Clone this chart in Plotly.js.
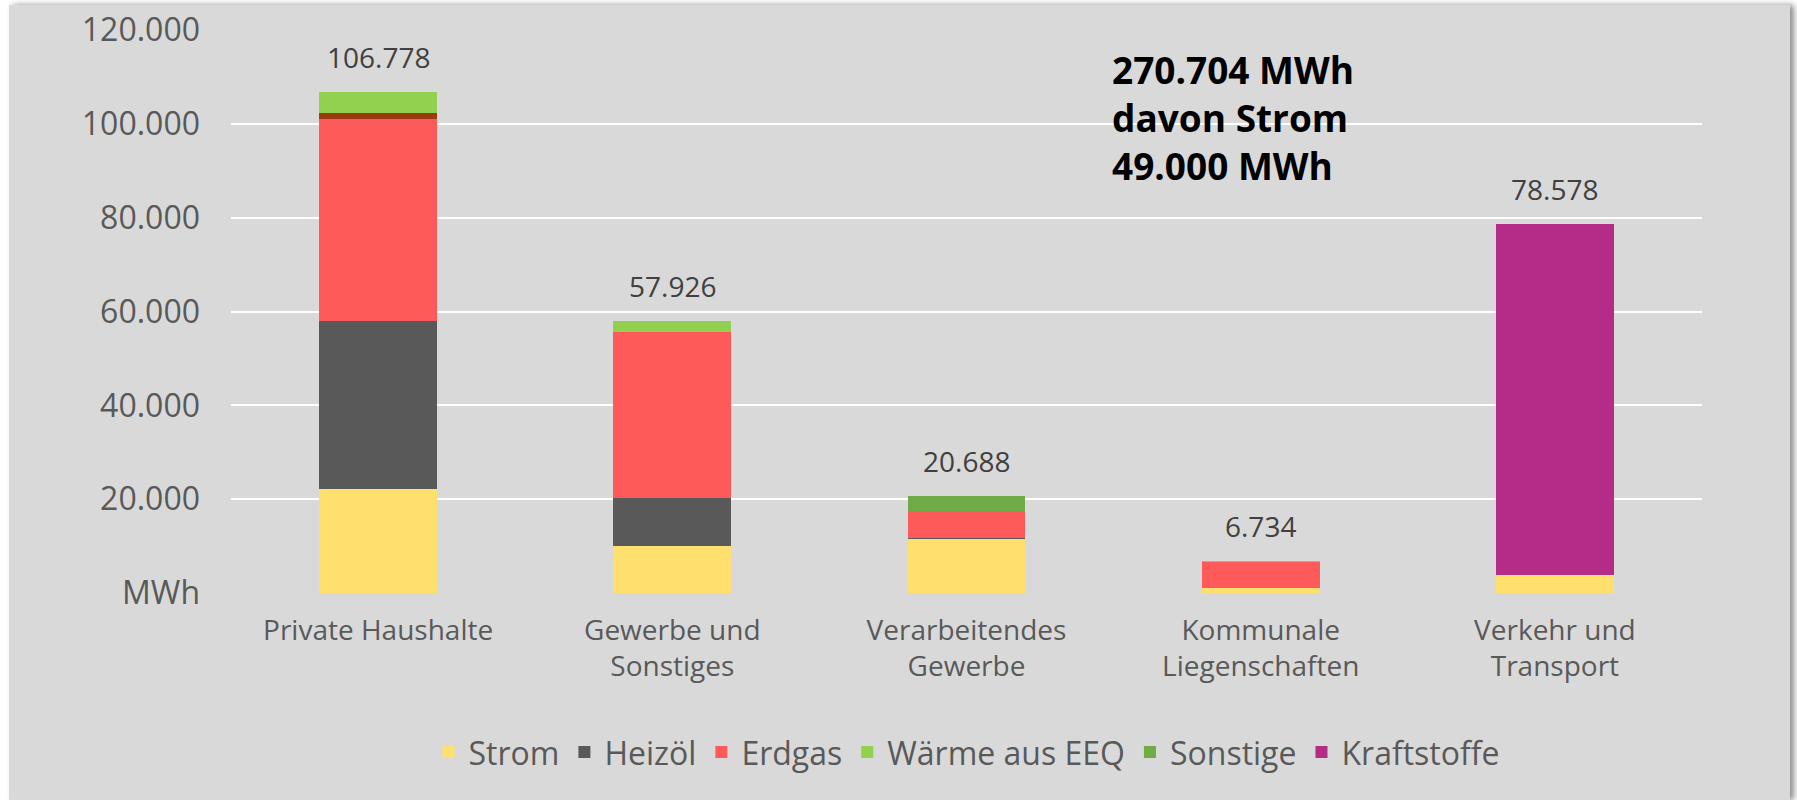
<!DOCTYPE html>
<html>
<head>
<meta charset="utf-8">
<script src="https://cdn.plot.ly/plotly-3.0.1.min.js"></script>
<style>
  body { margin: 0; background: #ffffff; }
  #plot { position: absolute; left: 9px; top: 5px; width: 1781px; height: 795px;
          box-shadow: 4px 0 6px rgba(0,0,0,0.45); }
</style>
</head>
<body>
<div id="plot"></div>
<script>
// Energieverbrauch nach Sektoren (MWh)
const categories = ['Private Haushalte', 'Gewerbe und<br>Sonstiges', 'Verarbeitendes<br>Gewerbe', 'Kommunale<br>Liegenschaften', 'Verkehr und<br>Transport'];

const strom       = [22170, 10020, 11440, 1130, 3770];
const heizoel     = [35870, 10290, 200, 0, 0];
const erdgas      = [42920, 35380, 5900, 5550, 0];
const weitere     = [1410, 0, 0, 0, 0];   // braunes Segment, ohne Legende
const waerme      = [4408, 2236, 0, 54, 0];
const sonstige    = [0, 0, 3148, 0, 0];
const kraftstoffe = [0, 0, 0, 0, 74808];

const yTickVals = [0, 20000, 40000, 60000, 80000, 100000, 120000];
const yTickText = ['MWh', '20.000', '40.000', '60.000', '80.000', '100.000', '120.000'];

const series = [
  { name: 'Strom', y: strom, color: '#FFE06F' },
  { name: 'Heizöl', y: heizoel, color: '#595959' },
  { name: 'Erdgas', y: erdgas, color: '#FF5A5A' },
  { name: 'weitere', y: weitere, color: '#9C3B0F', hide: true },
  { name: 'Wärme aus EEQ', y: waerme, color: '#92D050' },
  { name: 'Sonstige', y: sonstige, color: '#6FAC46' },
  { name: 'Kraftstoffe', y: kraftstoffe, color: '#B42C88' }
];

const data = series.map(s => ({
  type: 'bar',
  name: s.name,
  x: categories,
  y: s.y,
  showlegend: !s.hide,
  marker: { color: s.color, line: { width: 0 } }
}));

const totals = categories.map((c, i) => series.reduce((sum, s) => sum + s.y[i], 0));

function fmt(v) {
  return v.toString().replace(/\B(?=(\d{3})+(?!\d))/g, '.');
}

const annotations = categories.map((c, i) => ({
  x: c, y: totals[i], xref: 'x', yref: 'y',
  text: fmt(totals[i]), showarrow: false,
  yanchor: 'middle', yshift: 35,
  font: { size: 28, color: '#404040' }
}));

annotations.push({
  xref: 'paper', yref: 'paper', x: 0.5976, y: 0.845,
  xanchor: 'left', yanchor: 'middle', align: 'left', showarrow: false,
  text: '<b>270.704 MWh<br>davon Strom<br>49.000 MWh</b>',
  font: { size: 37, color: '#000000' }
});

const layout = {
  barmode: 'stack',
  bargap: 0.6,
  paper_bgcolor: '#D9D9D9',
  plot_bgcolor: '#D9D9D9',
  font: { family: 'Open Sans, sans-serif', color: '#595959' },
  margin: { l: 222, r: 88, t: 25, b: 207 },
  xaxis: {
    showgrid: false, showline: false, zeroline: false,
    ticks: '', ticklabelstandoff: 18,
    tickfont: { size: 28, color: '#595959' }
  },
  yaxis: {
    range: [0, 120000],
    tickvals: yTickVals, ticktext: yTickText,
    showgrid: true, gridcolor: '#FFFFFF', gridwidth: 2,
    zeroline: true, zerolinecolor: '#D9D9D9', zerolinewidth: 3,
    showline: false, ticks: '', ticklabelstandoff: 30,
    tickfont: { size: 32, color: '#595959' }
  },
  legend: {
    orientation: 'h', xref: 'paper', x: 0.5, xanchor: 'center',
    yref: 'container', y: 0.06, yanchor: 'middle',
    font: { size: 32, color: '#595959' },
    traceorder: 'normal', itemclick: false
  },
  annotations: annotations,
  showlegend: true
};

Plotly.newPlot('plot', data, layout, { displayModeBar: false, staticPlot: true });
</script>
</body>
</html>
